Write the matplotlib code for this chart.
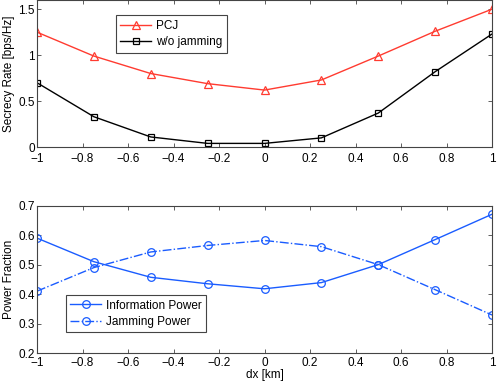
import numpy as np
import matplotlib
matplotlib.use("Agg")
import matplotlib.pyplot as plt

plt.rcParams['font.family'] = ['Liberation Sans', 'DejaVu Sans']
plt.rcParams['font.size'] = 8.5

# data
dx = [-1, -0.75, -0.5, -0.25, 0, 0.25, 0.5, 0.75, 1]
rate_pcj = [1.25, 0.99, 0.80, 0.69, 0.62, 0.73, 0.99, 1.26, 1.50]
rate_nojam = [0.70, 0.33, 0.11, 0.04, 0.04, 0.10, 0.37, 0.82, 1.23]
info_power = [0.59, 0.51, 0.457, 0.435, 0.418, 0.439, 0.50, 0.585, 0.671]
jam_power = [0.41, 0.49, 0.543, 0.565, 0.582, 0.561, 0.50, 0.415, 0.329]

xticks = [-1, -0.8, -0.6, -0.4, -0.2, 0, 0.2, 0.4, 0.6, 0.8, 1]
xticklabels = ['\u22121', '\u22120.8', '\u22120.6', '\u22120.4', '\u22120.2',
               '0', '0.2', '0.4', '0.6', '0.8', '1']

fig = plt.figure(figsize=(4.98, 3.84), dpi=100)
ax1 = fig.add_axes([0.0743, 0.617, 0.9137, 0.383])
ax2 = fig.add_axes([0.0743, 0.0807, 0.9137, 0.3836])

red = '#ff3b30'
blue = '#1a5cff'

ax1.plot(dx, rate_pcj, color=red, lw=1, marker='^', ms=6, mfc='none',
         mec=red, mew=0.9, label='PCJ')
ax1.plot(dx, rate_nojam, color='black', lw=1, marker='s', ms=5, mfc='none',
         mec='black', mew=0.9, label='w/o jamming')
ax1.set_ylim(0, 1.6)
ax1.set_yticks([0, 0.5, 1, 1.5])
ax1.set_yticklabels(['0', '0.5', '1', '1.5'])
ax1.set_ylabel('Secrecy Rate [bps/Hz]', labelpad=2.5)
leg1 = ax1.legend(loc='upper left', bbox_to_anchor=(0.16, 0.935),
                  fancybox=False, edgecolor='#444444', framealpha=1,
                  handlelength=2.6, handletextpad=0.4, borderpad=0.4,
                  labelspacing=0.35)
leg1.get_frame().set_linewidth(0.8)

ax2.plot(dx, info_power, color=blue, lw=1, marker='o', ms=5.5, mfc='none',
         mec=blue, mew=0.9, label='Information Power')
ax2.plot(dx, jam_power, color=blue, lw=1, ls='-.', marker='o', ms=5.5,
         mfc='none', mec=blue, mew=0.9, label='Jamming Power')
ax2.set_ylim(0.2, 0.7)
ax2.set_yticks([0.2, 0.3, 0.4, 0.5, 0.6, 0.7])
ax2.set_ylabel('Power Fraction', labelpad=2.5)
ax2.set_xlabel('dx [km]', labelpad=0)
leg2 = ax2.legend(loc='lower left', bbox_to_anchor=(0.05, 0.1),
                  fancybox=False, edgecolor='#444444', framealpha=1,
                  handlelength=2.6, handletextpad=0.4, borderpad=0.4,
                  labelspacing=0.35)
leg2.get_frame().set_linewidth(0.8)

for ax in (ax1, ax2):
    ax.set_xlim(-1, 1)
    ax.set_xticks(xticks)
    ax.set_xticklabels(xticklabels)
    ax.tick_params(direction='in', top=True, right=True, length=3,
                   width=0.6, color='#444444', labelsize=8.5)
    ax.tick_params(axis='y', pad=1.5)
    for s in ax.spines.values():
        s.set_color('#444444')
        s.set_linewidth(0.8)
ax1.tick_params(axis='x', pad=4.5)
ax2.tick_params(axis='x', pad=3)

fig.savefig('out.png', dpi=100)
